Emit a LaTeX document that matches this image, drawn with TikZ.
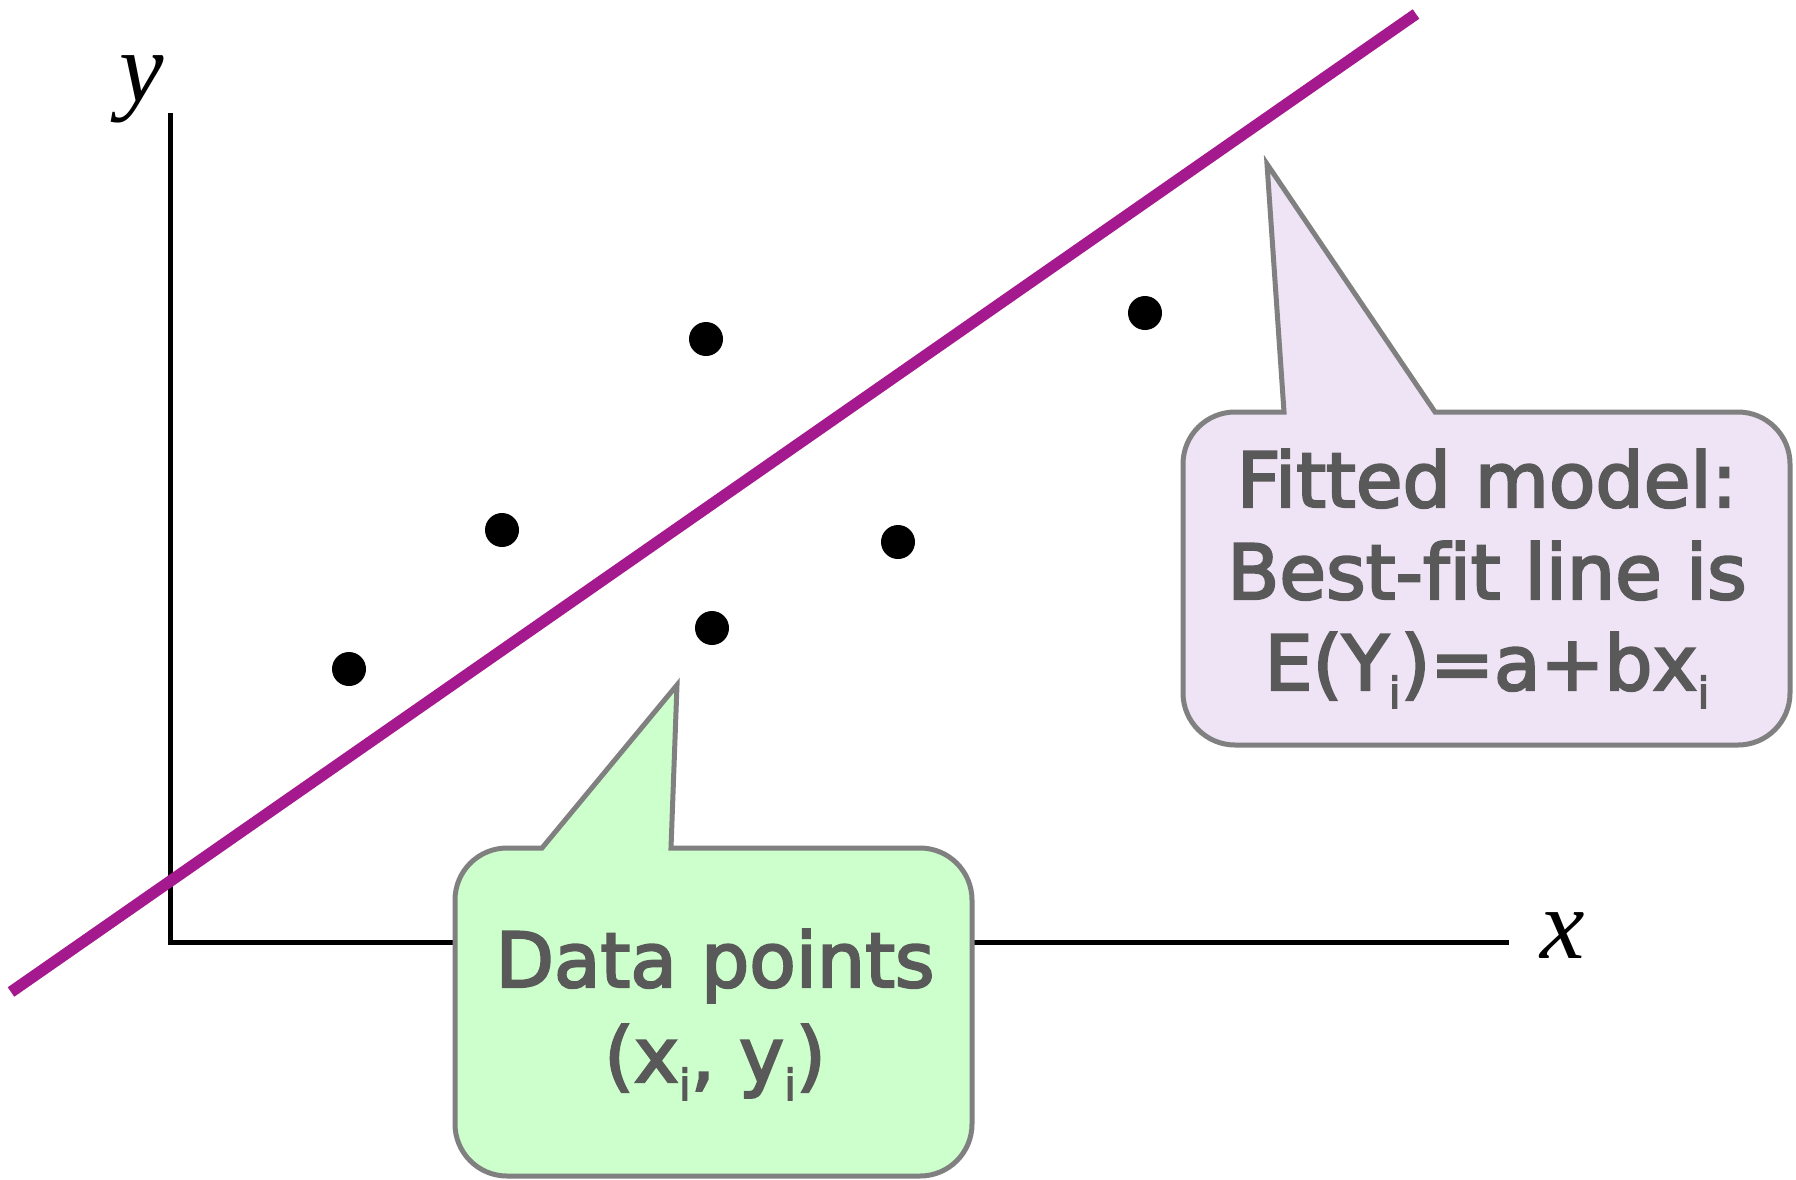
\documentclass[tikz,border=0pt]{standalone}
\usepackage{fontspec}
\setmainfont{DejaVu Sans}
\newfontfamily\calloutfont[FakeBold=3,Ligatures=NoCommon]{DejaVu Sans}
\newfontfamily\axisfont{Liberation Serif}
\definecolor{fitcol}{RGB}{165,25,143}
\definecolor{greenfill}{RGB}{204,255,204}
\definecolor{purplefill}{RGB}{239,228,245}
\definecolor{bordergray}{RGB}{128,128,128}
\definecolor{textgray}{RGB}{89,89,89}
\newcommand\lowi{\raisebox{-0.24em}{\fontsize{43}{43}\selectfont i}}
\tikzset{
  axisline/.style={line width=5pt, black, line join=miter},
  fitstroke/.style={line width=11.5pt, fitcol},
  datadot/.style={circle, fill=black, inner sep=0, minimum size=34},
  axislabel/.style={font=\axisfont\itshape\fontsize{100}{100}\selectfont, inner sep=0},
  callgreen/.style={draw=bordergray, fill=greenfill, line width=5pt, line join=miter},
  callpurple/.style={draw=bordergray, fill=purplefill, line width=5pt, line join=miter},
  calltext/.style={font=\calloutfont\fontsize{76}{91}\selectfont, text=textgray, anchor=base, inner sep=0},
}
\begin{document}
\begin{tikzpicture}[x=1pt,y=-1pt]
\useasboundingbox (0,0) rectangle (1796,1179);
% axes
\coordinate (ytop) at (170,113);
\coordinate (origin) at (170,942);
\coordinate (xend) at (1509,942);
\draw[axisline] (ytop) -- (origin) -- (xend);
\node[axislabel] (ylab) at (142,89) {y};
\node[axislabel] (xlab) at (1563,936) {x};
% fitted line
\coordinate (la) at (11,992);
\coordinate (lb) at (1416,14);
\draw[fitstroke] (la) -- (lb);
% data points
\node[datadot] (p1) at (349,669) {};
\node[datadot] (p2) at (502,530) {};
\node[datadot] (p3) at (706,339) {};
\node[datadot] (p4) at (712,628) {};
\node[datadot] (p5) at (898,542) {};
\node[datadot] (p6) at (1145,313) {};
% green callout
\draw[callgreen] (507,848) -- (542,848) -- (677,685) -- (671,848) -- (920,848)
  arc[start angle=270,end angle=360,radius=52] -- (972,1124)
  arc[start angle=0,end angle=90,radius=52] -- (507,1176)
  arc[start angle=90,end angle=180,radius=52] -- (455,900)
  arc[start angle=180,end angle=270,radius=52] -- cycle;
\node[calltext] (dp1) at (715,987) {Data points};
\node[calltext] (dp2) at (715,1082) {(x\lowi, y\lowi)};
% purple callout
\draw[callpurple] (1235,412) -- (1284,412) -- (1267,164) -- (1435,412) -- (1738,412)
  arc[start angle=270,end angle=360,radius=52] -- (1790,693)
  arc[start angle=0,end angle=90,radius=52] -- (1235,745)
  arc[start angle=90,end angle=180,radius=52] -- (1183,464)
  arc[start angle=180,end angle=270,radius=52] -- cycle;
\node[calltext] (fit1) at (1487,507) {Fitted model:};
\node[calltext] (fit2) at (1487,599) {Best-fit line is};
\node[calltext] (fit3) at (1487,690) {E(Y\lowi)=a+bx\lowi};
\end{tikzpicture}
\end{document}
